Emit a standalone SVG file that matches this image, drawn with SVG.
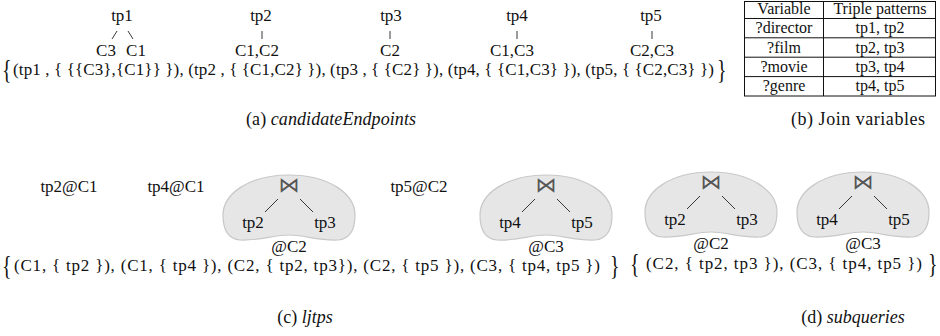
<svg xmlns="http://www.w3.org/2000/svg" width="940" height="336" viewBox="0 0 940 336" font-family="'Liberation Serif', 'DejaVu Serif', serif">
<style>
text{font-family:'Liberation Serif','DejaVu Serif',serif;font-size:17px;fill:#111}
.m{text-anchor:middle}
.br{font-size:20px}
.tb{font-size:16px}
.cap{font-size:18px}
.it{font-style:italic}
.bt{font-family:'DejaVu Sans',sans-serif;font-size:21px;text-anchor:middle;fill:#555}
.blob{fill:#e6e6e6;stroke:#c8c8c8;stroke-width:1.2}
.ln{stroke:#111;stroke-width:1;fill:none}
.tl{stroke:#222;stroke-width:0.9;fill:none}
</style>
<defs>
<path id="blob" class="blob" d="M0,-33 C40,-33 66,-14 66,7 C66,22 61,31 49,32 C30,33 15,27 0,27 C-15,27 -30,33 -49,32 C-61,31 -66,22 -66,7 C-66,-14 -40,-33 0,-33 Z"/>
</defs>

<!-- (a) candidateEndpoints -->
<g id="a-tp1"><text class="m" x="122" y="21">tp1</text><text class="m" x="106" y="56">C3</text><text class="m" x="136" y="56">C1</text></g>
<g id="a-tp2"><text class="m" x="261" y="21">tp2</text><text class="m" x="257" y="56">C1,C2</text></g>
<g id="a-tp3"><text class="m" x="391" y="21">tp3</text><text class="m" x="390" y="56">C2</text></g>
<g id="a-tp4"><text class="m" x="517" y="21">tp4</text><text class="m" x="512" y="56">C1,C3</text></g>
<g id="a-tp5"><text class="m" x="651" y="21">tp5</text><text class="m" x="652" y="56">C2,C3</text></g>
<g id="a-set">
<text class="br" transform="translate(2,79) scale(1,1.35)">{</text>
<text x="13" y="75" textLength="701" lengthAdjust="spacing">(tp1 , { {{C3},{C1}} }), (tp2 , { {C1,C2} }), (tp3 , { {C2} }), (tp4, { {C1,C3} }), (tp5, { {C2,C3} })</text>
<text class="br" transform="translate(717,79) scale(1,1.35)">}</text>
</g>

<!-- (b) table -->
<g id="b-table">
<rect x="744.5" y="1.5" width="191" height="94.5" fill="none" stroke="#111" stroke-width="1"/>
<path class="ln" d="M823.5,1.5V96 M744.5,18.5H935.5 M744.5,37.8H935.5 M744.5,57.2H935.5 M744.5,76.6H935.5"/>
<text class="tb m" x="784" y="14">Variable</text><text class="tb m" x="880" y="14">Triple patterns</text>
<text class="tb m" x="784" y="33">?director</text><text class="tb m" x="880" y="33">tp1, tp2</text>
<text class="tb m" x="784" y="52.5">?film</text><text class="tb m" x="880" y="52.5">tp2, tp3</text>
<text class="tb m" x="784" y="72">?movie</text><text class="tb m" x="880" y="72">tp3, tp4</text>
<text class="tb m" x="784" y="91">?genre</text><text class="tb m" x="880" y="91">tp4, tp5</text>
</g>

<!-- captions a, b -->
<g id="cap-a"><text class="cap" x="246" y="125" textLength="170" lengthAdjust="spacing">(a) <tspan class="it">candidateEndpoints</tspan></text></g>
<g id="cap-b"><text class="cap" x="791" y="125" textLength="134" lengthAdjust="spacing">(b) Join variables</text></g>

<!-- (c) ljtps -->
<g id="c-tp2C1"><text class="m" x="69" y="192">tp2@C1</text></g>
<g id="c-tp4C1"><text class="m" x="176" y="192">tp4@C1</text></g>
<g id="c-sq1">
<use href="#blob" x="289" y="208"/>
<text class="bt" x="289" y="192">⋈</text>
<text class="m" x="253" y="228">tp2</text><text class="m" x="325" y="228">tp3</text>
<text class="m" x="289" y="252">@C2</text>
</g>
<g id="c-tp5C2"><text class="m" x="419" y="192">tp5@C2</text></g>
<g id="c-sq2">
<use href="#blob" x="546" y="208"/>
<text class="bt" x="546" y="192">⋈</text>
<text class="m" x="510" y="228">tp4</text><text class="m" x="582" y="228">tp5</text>
<text class="m" x="546" y="252">@C3</text>
</g>
<g id="c-set">
<text class="br" transform="translate(2,275) scale(1,1.35)">{</text>
<text x="14" y="271" textLength="586" lengthAdjust="spacing">(C1, { tp2 }), (C1, { tp4 }), (C2, { tp2, tp3}), (C2, { tp5 }), (C3, { tp4, tp5 })</text>
<text class="br" transform="translate(610,275) scale(1,1.35)">}</text>
</g>

<!-- (d) subqueries -->
<g id="d-sq1">
<use href="#blob" x="711" y="205"/>
<text class="bt" x="711" y="189">⋈</text>
<text class="m" x="675" y="225">tp2</text><text class="m" x="747" y="225">tp3</text>
<text class="m" x="711" y="249">@C2</text>
</g>
<g id="d-sq2">
<use href="#blob" x="863" y="205"/>
<text class="bt" x="863" y="189">⋈</text>
<text class="m" x="827" y="225">tp4</text><text class="m" x="899" y="225">tp5</text>
<text class="m" x="863" y="249">@C3</text>
</g>
<g id="d-set">
<text class="br" transform="translate(630,273) scale(1,1.35)">{</text>
<text x="646" y="269" textLength="276" lengthAdjust="spacing">(C2, { tp2, tp3 }), (C3, { tp4, tp5 })</text>
<text class="br" transform="translate(928,273) scale(1,1.35)">}</text>
</g>

<!-- captions c, d -->
<g id="cap-c"><text class="cap" x="305" y="323" text-anchor="middle">(c) <tspan class="it">ljtps</tspan></text></g>
<g id="cap-d"><text class="cap" x="853" y="323" text-anchor="middle">(d) <tspan class="it">subqueries</tspan></text></g>

<!-- connectors -->
<g id="connectors" class="tl">
<line x1="112" y1="39" x2="117" y2="31"/><line x1="128" y1="31" x2="133" y2="39"/>
<line x1="262" y1="31" x2="262" y2="39"/>
<line x1="390" y1="31" x2="390" y2="39"/>
<line x1="517" y1="31" x2="517" y2="39"/>
<line x1="652" y1="31" x2="652" y2="39"/>
<line x1="265" y1="212" x2="278" y2="199"/><line x1="300" y1="199" x2="313" y2="212"/>
<line x1="522" y1="212" x2="535" y2="199"/><line x1="557" y1="199" x2="570" y2="212"/>
<line x1="687" y1="209" x2="700" y2="196"/><line x1="722" y1="196" x2="735" y2="209"/>
<line x1="839" y1="209" x2="852" y2="196"/><line x1="874" y1="196" x2="887" y2="209"/>
</g>
</svg>
